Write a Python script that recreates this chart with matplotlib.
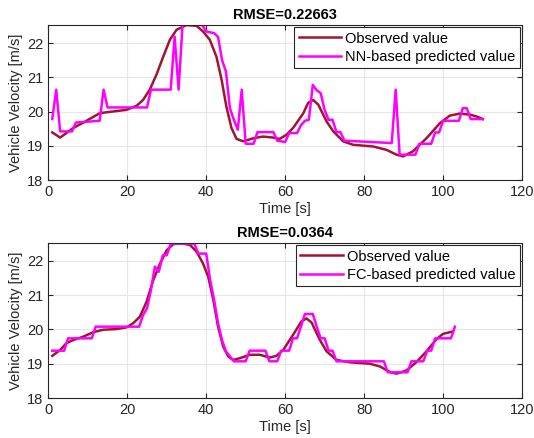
import numpy as np
import matplotlib
matplotlib.use('Agg')
import matplotlib.pyplot as plt

plt.rcParams['font.family'] = ['Liberation Sans', 'DejaVu Sans']

# Upper panel: observed vs NN-based prediction
obs1_t = [1, 3, 6.3, 8.9, 13, 14.8, 19.8, 22.4, 24, 25.7, 27.4, 29.1, 30.8, 32.5, 35, 37.6,
          39.2, 40.9, 42.6, 43.9, 45.1, 46.4, 47.7, 49.4, 51.9, 54.4, 57, 58.6, 60.3, 62,
          64.6, 65.8, 67.1, 68.4, 70.5, 72.2, 74.7, 77.2, 82.3, 85.7, 88.2, 89.9, 92.4,
          95.8, 99.2, 101.7, 104.2, 106.8, 108.4, 110.1]
obs1_v = [19.39, 19.24, 19.52, 19.68, 19.95, 19.98, 20.05, 20.17, 20.34, 20.64, 21.08, 21.6,
          22.1, 22.39, 22.53, 22.5, 22.34, 22.1, 21.6, 20.93, 20.15, 19.52, 19.2, 19.13,
          19.22, 19.27, 19.24, 19.2, 19.32, 19.52, 19.95, 20.25, 20.34, 20.2, 19.71, 19.42,
          19.13, 19.03, 18.98, 18.88, 18.74, 18.69, 18.84, 19.22, 19.66, 19.88, 19.94,
          19.91, 19.86, 19.78]

nn_t = [1, 2, 3, 6, 7, 13, 14, 15, 25, 26, 31, 32, 33, 34, 39, 40, 42, 43, 44, 45, 46, 47,
        48, 49, 50, 52, 53, 57, 58, 60, 61, 63, 64, 65, 66, 67, 68, 69, 70, 71, 72, 73, 74,
        75, 87, 88, 89, 93, 94, 97, 98, 99, 100, 104, 105, 106, 107, 110]
nn_v = [19.78, 20.64, 19.42, 19.42, 19.68, 19.73, 20.64, 20.12, 20.12, 20.64, 20.64, 22.19,
        20.64, 22.53, 22.53, 22.34, 22.29, 22.18, 21.51, 21.17, 20.1, 19.76, 19.47, 20.64,
        19.06, 19.06, 19.4, 19.4, 19.15, 19.11, 19.37, 19.37, 19.6, 19.73, 19.76, 20.78,
        20.62, 20.54, 20.05, 19.76, 19.76, 19.4, 19.4, 19.15, 19.08, 20.64, 18.74, 18.74,
        19.06, 19.06, 19.39, 19.39, 19.73, 19.73, 20.1, 20.1, 19.78, 19.78]

# Lower panel: observed vs FC-based prediction
obs2_t = [1, 3, 4.6, 6.3, 8.9, 11.4, 13.9, 17.3, 19.8, 21.5, 23.2, 24.9, 26.6, 28.3, 30,
          31.6, 33.3, 35.9, 37.6, 39.2, 40.5, 41.8, 43, 44.3, 45.6, 46.8, 48.5, 51, 53.6,
          56.1, 57.8, 59.5, 62, 64.1, 65.4, 66.7, 68.8, 70.5, 73, 76.4, 81.4, 84, 86.5,
          88.2, 90.7, 93.2, 95.8, 98.3, 100, 102.5]
obs2_v = [19.23, 19.4, 19.6, 19.69, 19.79, 19.92, 19.99, 20.01, 20.06, 20.18, 20.37, 20.81,
          21.44, 21.92, 22.31, 22.48, 22.52, 22.46, 22.26, 21.92, 21.54, 20.86, 20.08, 19.5,
          19.21, 19.11, 19.16, 19.26, 19.26, 19.18, 19.23, 19.4, 19.84, 20.23, 20.32, 20.2,
          19.69, 19.36, 19.11, 19.04, 19.0, 18.92, 18.76, 18.71, 18.8, 19.04, 19.36, 19.71,
          19.87, 19.94]

fc_t = [1, 4, 5, 11, 12, 23, 24, 25, 26, 27, 28, 29, 30, 31, 37, 38, 40, 41, 42, 43, 44,
        45, 47, 50, 51, 55, 56, 58, 59, 61, 62, 63, 64, 65, 67, 68, 69, 70, 71, 72, 73, 85,
        86, 91, 92, 95, 96, 97, 98, 102, 103]
fc_v = [19.38, 19.38, 19.74, 19.74, 20.08, 20.08, 20.42, 20.61, 21.15, 21.83, 21.68, 22.16,
        22.16, 22.5, 22.5, 22.21, 22.21, 21.44, 20.86, 20.18, 19.69, 19.36, 19.07, 19.07,
        19.38, 19.38, 19.07, 19.07, 19.38, 19.38, 19.74, 19.74, 20.08, 20.45, 20.45, 20.08,
        19.74, 19.74, 19.38, 19.38, 19.07, 19.07, 18.75, 18.75, 19.07, 19.07, 19.38, 19.38,
        19.74, 19.74, 20.08]

obs_color = '#A2142F'
pred_color = '#FF00FF'


def style_axes(ax, title, ymax):
    ax.set_xlim(0, 120)
    ax.set_ylim(18, ymax)
    ax.set_xticks(np.arange(0, 121, 20))
    ax.set_yticks([18, 19, 20, 21, 22])
    ax.grid(True, color='#E6E6E6', linewidth=0.8)
    ax.set_axisbelow(True)
    ax.tick_params(direction='in', top=True, right=True, labelsize=10.5,
                   colors='#262626', length=3.5, width=0.8)
    for spine in ax.spines.values():
        spine.set_color('#262626')
        spine.set_linewidth(0.8)
    ax.set_xlabel('Time [s]', fontsize=10.5, color='#262626', labelpad=2)
    ax.set_ylabel('Vehicle Velocity [m/s]', fontsize=10.5, color='#262626', labelpad=3)
    ax.set_title(title, fontsize=10.5, fontweight='bold', pad=4)


fig = plt.figure(figsize=(5.34, 4.38), dpi=100)
ax1 = fig.add_axes([0.0905, 0.589, 0.887, 0.354])
ax2 = fig.add_axes([0.0905, 0.0913, 0.887, 0.354])

ax1.plot(obs1_t, obs1_v, color=obs_color, linewidth=1.8, label='Observed value')
ax1.plot(nn_t, nn_v, color=pred_color, linewidth=1.8, label='NN-based predicted value')
style_axes(ax1, 'RMSE=0.22663', 22.53)

ax2.plot(obs2_t, obs2_v, color=obs_color, linewidth=1.8, label='Observed value')
ax2.plot(fc_t, fc_v, color=pred_color, linewidth=1.8, label='FC-based predicted value')
style_axes(ax2, 'RMSE=0.0364', 22.52)

for ax in (ax1, ax2):
    leg = ax.legend(loc='upper right', fontsize=10.5, fancybox=False, framealpha=1,
                    borderaxespad=0.15, handlelength=2.9, handletextpad=0.3,
                    labelspacing=0.3, borderpad=0.3)
    leg.get_frame().set_edgecolor('#262626')
    leg.get_frame().set_linewidth(0.8)

fig.savefig('out.png', dpi=100)
